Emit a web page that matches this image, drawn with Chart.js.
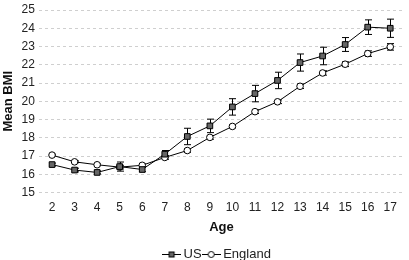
<!DOCTYPE html>
<html>
<head>
<meta charset="utf-8">
<script src="https://cdn.jsdelivr.net/npm/chart.js@4.4.1/dist/chart.umd.min.js"></script>
<style>
  html, body { margin: 0; padding: 0; background: #fff; }
  #wrap { width: 409px; height: 260px; position: relative; }
</style>
</head>
<body>
<div id="wrap"><canvas id="chartBmi"></canvas></div>
<script>
// ages and mean BMI
const ages = [2, 3, 4, 5, 6, 7, 8, 9, 10, 11, 12, 13, 14, 15, 16, 17];
const usMean = [16.53, 16.23, 16.1, 16.42, 16.26, 17.1, 18.07, 18.65, 19.69, 20.42, 21.14, 22.12, 22.48, 23.11, 24.06, 24.0];
const usErr = [0.08, 0.1, 0.08, 0.25, 0.12, 0.2, 0.45, 0.37, 0.45, 0.45, 0.45, 0.47, 0.48, 0.38, 0.4, 0.5];
const engMean = [17.05, 16.68, 16.52, 16.39, 16.49, 16.92, 17.3, 18.02, 18.62, 19.43, 19.97, 20.82, 21.55, 22.03, 22.61, 22.98];
const engErr = [0.05, 0.05, 0.05, 0.1, 0.08, 0.1, 0.1, 0.1, 0.08, 0.1, 0.1, 0.12, 0.12, 0.13, 0.15, 0.18];
const yTicks = [15, 16, 17, 18, 19, 20, 21, 22, 23, 24, 25];

const FONT = "'Liberation Sans', Arial, Helvetica, sans-serif";
const usFill = '#666666';

// little line+marker image for the legend
const legendIcon = (square) => {
    const c = document.createElement('canvas');
    c.width = 19; c.height = 10;
    const g = c.getContext('2d');
    g.strokeStyle = '#000'; g.lineWidth = 1;
    g.beginPath(); g.moveTo(0, 5.5); g.lineTo(19, 5.5); g.stroke();
    if (square) {
        g.fillStyle = usFill;
        g.fillRect(7, 3, 5, 5);
        g.strokeRect(7, 3, 5, 5);
    } else {
        g.fillStyle = '#fff';
        g.beginPath(); g.arc(9.5, 5.5, 3, 0, Math.PI * 2); g.fill(); g.stroke();
    }
    return c;
};

// error bars drawn through the chart scales
const errorBars = {
    id: 'errorBars',
    beforeDatasetsDraw(chart) {
        const { ctx, scales: { x, y } } = chart;
        ctx.save();
        ctx.strokeStyle = '#000';
        ctx.lineWidth = 1;
        chart.data.datasets.forEach(ds => {
            ds.data.forEach((p, i) => {
                const err = ds.err[i];
                const px = Math.round(x.getPixelForValue(p.x)) + 0.5;
                const top = y.getPixelForValue(p.y + err);
                const bot = y.getPixelForValue(p.y - err);
                ctx.beginPath();
                ctx.moveTo(px, top); ctx.lineTo(px, bot);
                ctx.moveTo(px - 3.5, top); ctx.lineTo(px + 3.5, top);
                ctx.moveTo(px - 3.5, bot); ctx.lineTo(px + 3.5, bot);
                ctx.stroke();
            });
        });
        ctx.restore();
    }
};

// legend in the original sits a bit right of centre
const legendNudge = {
    id: 'legendNudge',
    afterLayout(chart) {
        chart.legend.left += 14;
        chart.legend.right += 14;
    }
};

new Chart(document.getElementById('chartBmi'), {
    type: 'line',
    data: {
        datasets: [
            {
                label: 'US',
                data: ages.map((a, i) => ({ x: a, y: usMean[i] })),
                err: usErr,
                borderColor: '#000', borderWidth: 1,
                pointStyle: 'rect', pointRadius: 4, pointBorderWidth: 1,
                pointBackgroundColor: usFill, pointBorderColor: '#000',
                legendIcon: legendIcon(true)
            },
            {
                label: 'England',
                data: ages.map((a, i) => ({ x: a, y: engMean[i] })),
                err: engErr,
                borderColor: '#000', borderWidth: 1,
                pointStyle: 'circle', pointRadius: 3.3, pointBorderWidth: 1,
                pointBackgroundColor: '#fff', pointBorderColor: '#000',
                legendIcon: legendIcon(false)
            }
        ]
    },
    options: {
        responsive: true, maintainAspectRatio: false, animation: false,
        layout: { padding: { left: 0, right: 0, top: -6, bottom: -10.5 } },
        plugins: {
            tooltip: { enabled: false },
            legend: {
                position: 'bottom',
                labels: {
                    usePointStyle: true, pointStyleWidth: 11, padding: 4,
                    color: '#222', font: { family: FONT, size: 13 },
                    generateLabels: (chart) => chart.data.datasets.map((ds, i) => ({
                        text: ds.label, pointStyle: ds.legendIcon, datasetIndex: i,
                        fontColor: '#222', lineWidth: 0, strokeStyle: 'transparent', fillStyle: 'transparent'
                    }))
                }
            }
        },
        scales: {
            x: {
                type: 'linear', min: 1.42, max: 17.61,
                afterBuildTicks: (s) => { s.ticks = ages.map(v => ({ value: v })); },
                afterFit: (s) => { s.paddingLeft = 0; s.paddingRight = 0; },
                grid: { display: false, drawTicks: false }, border: { display: false },
                ticks: { color: '#222', font: { family: FONT, size: 12 }, padding: 8, maxRotation: 0, autoSkip: false },
                title: { display: true, text: 'Age', color: '#111', font: { family: FONT, size: 13, weight: 'bold' }, padding: { top: -3, bottom: 8 } }
            },
            y: {
                min: 15, max: 25,
                afterBuildTicks: (s) => { s.ticks = yTicks.map(v => ({ value: v })); },
                grid: { color: '#cfcfcf', drawTicks: false }, border: { display: false, dash: [3, 3] },
                ticks: { color: '#222', font: { family: FONT, size: 12, lineHeight: 1 }, padding: 4, autoSkip: false },
                title: { display: true, text: 'Mean BMI', color: '#111', font: { family: FONT, size: 13, weight: 'bold' }, padding: { top: 1, bottom: 1 } }
            }
        }
    },
    plugins: [errorBars, legendNudge]
});
</script>
</body>
</html>
